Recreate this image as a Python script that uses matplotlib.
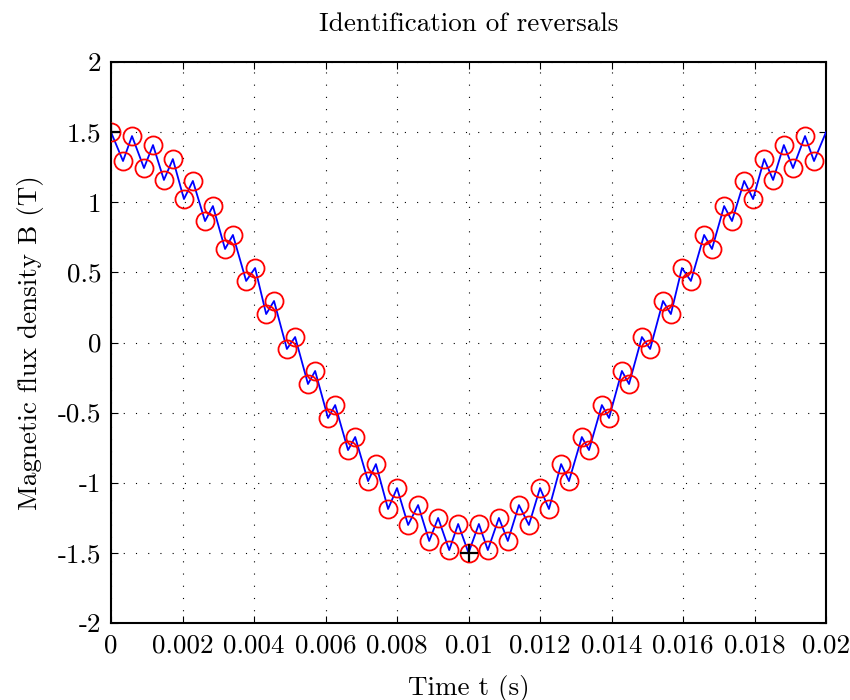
import matplotlib
matplotlib.use("Agg")
import matplotlib.pyplot as plt

plt.rcParams['font.family'] = ['cmr10', 'DejaVu Serif']
plt.rcParams['axes.unicode_minus'] = False
plt.rcParams['mathtext.fontset'] = 'cm'

# Reversal points (local extrema): time (s), flux density (T)
t_rev = [0.0, 0.000336, 0.000587, 0.000923, 0.001175, 0.00148, 0.00173, 0.00204,
         0.00229, 0.00263, 0.00285, 0.00319, 0.00341, 0.00378, 0.00403, 0.00434,
         0.00456, 0.00492, 0.00515, 0.00551, 0.00571, 0.00607, 0.00627, 0.00663,
         0.00683, 0.00719, 0.00741, 0.00775, 0.00800, 0.00831, 0.00859, 0.00890,
         0.00915, 0.00946, 0.00971, 0.01,
         0.01029, 0.01054, 0.01085, 0.01110, 0.01141, 0.01169, 0.01200, 0.01225,
         0.01259, 0.01281, 0.01317, 0.01337, 0.01373, 0.01393, 0.01429, 0.01449,
         0.01485, 0.01508, 0.01544, 0.01566, 0.01597, 0.01622, 0.01659, 0.01681,
         0.01715, 0.01737, 0.01771, 0.01796, 0.01827, 0.01852, 0.01882, 0.019077,
         0.019413, 0.019664]
b_rev = [1.5, 1.294, 1.472, 1.244, 1.408, 1.159, 1.308, 1.023,
         1.152, 0.866, 0.973, 0.667, 0.767, 0.439, 0.531, 0.203,
         0.296, -0.046, 0.039, -0.296, -0.203, -0.538, -0.446, -0.767,
         -0.674, -0.988, -0.867, -1.187, -1.038, -1.301, -1.159, -1.415,
         -1.251, -1.48, -1.294, -1.5,
         -1.294, -1.48, -1.251, -1.415, -1.159, -1.301, -1.038, -1.187,
         -0.867, -0.988, -0.674, -0.767, -0.446, -0.538, -0.203, -0.296,
         0.039, -0.046, 0.296, 0.203, 0.531, 0.439, 0.767, 0.667,
         0.973, 0.866, 1.152, 1.023, 1.308, 1.159, 1.408, 1.244,
         1.472, 1.294]

# Waveform end point
t_end = [0.02]
b_end = [1.5]

# Cycle start markers
t_start = [0.0, 0.01]
b_start = [1.5, -1.5]

xticks = [0, 0.002, 0.004, 0.006, 0.008, 0.01, 0.012, 0.014, 0.016, 0.018, 0.02]
xticklabels = ['0', '0.002', '0.004', '0.006', '0.008', '0.01', '0.012', '0.014',
               '0.016', '0.018', '0.02']
yticks = [-2, -1.5, -1, -0.5, 0, 0.5, 1, 1.5, 2]
yticklabels = ['-2', '-1.5', '-1', '-0.5', '0', '0.5', '1', '1.5', '2']

fig = plt.figure(figsize=(8.5, 7), dpi=100)
ax = fig.add_axes([0.1306, 0.11, 0.8412, 0.8014])

t_line = t_rev + t_end
b_line = b_rev + b_end
ax.plot(t_line, b_line, color='#0000ff', lw=1.3, zorder=3,
        solid_joinstyle='round')
ax.plot(t_rev, b_rev, ls='none', marker='o', ms=13, mfc='none', mec='#ff0000',
        mew=1.3, zorder=4)
ax.plot(t_start, b_start, ls='none', marker='+', ms=13, mec='black', mew=1.6, zorder=5)

ax.set_xlim(0, 0.02)
ax.set_ylim(-2, 2)
ax.set_xticks(xticks)
ax.set_xticklabels(xticklabels)
ax.set_yticks(yticks)
ax.set_yticklabels(yticklabels)
ax.tick_params(direction='in', length=5, width=0.8, top=True, right=True,
               labelsize=19.5, colors='black')
ax.tick_params(axis='x', pad=8)
ax.tick_params(axis='y', pad=7)
ax.grid(True, color='black', ls=(0, (1, 10)), lw=0.8)
for s in ax.spines.values():
    s.set_linewidth(1.5)

ax.set_title('Identification of reversals', fontsize=19.5, pad=22)
ax.set_xlabel('Time t (s)', fontsize=19.5, labelpad=12)
ax.set_ylabel('Magnetic flux density B (T)', fontsize=19.5, labelpad=10)

fig.savefig('out.png', dpi=100)
